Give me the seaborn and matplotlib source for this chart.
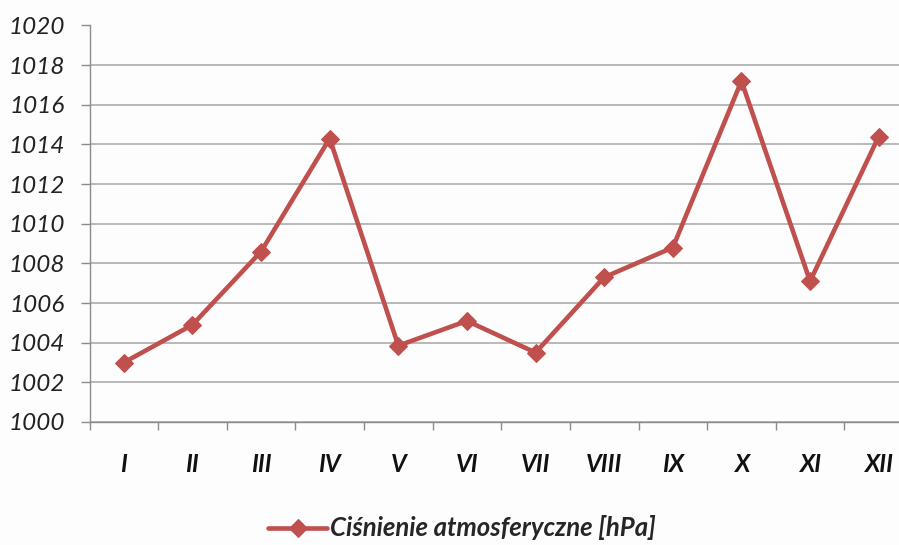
import numpy as np
import pandas as pd
import matplotlib
matplotlib.use("Agg")
import matplotlib.pyplot as plt
from matplotlib.ticker import FixedLocator
import seaborn as sns

months = ["I", "II", "III", "IV", "V", "VI", "VII", "VIII", "IX", "X", "XI", "XII"]
pressure = [1003.0, 1004.9, 1008.6, 1014.3, 1003.85, 1005.1, 1003.5, 1007.3, 1008.8, 1017.2, 1007.1, 1014.4]
series_name = "Ciśnienie atmosferyczne [hPa]"
y_ticks = list(range(1000, 1021, 2))

sns.set_theme(style="white")
plt.rcParams["font.family"] = ["Lato", "DejaVu Sans"]

df = pd.DataFrame({"month": months, "value": pressure})

fig = plt.figure(figsize=(8.99, 5.45), dpi=100)
fig.patch.set_facecolor("#fdfdfd")
ax = fig.add_axes([89.5 / 899, 123 / 545, (913 - 89.5) / 899, (519.5 - 123) / 545])
ax.set_facecolor("#fdfdfd")

red = "#C0504D"
sns.lineplot(data=df, x="month", y="value", ax=ax, color=red, linewidth=3.3,
             marker="D", markersize=9.5, markeredgecolor=red, label=series_name,
             sort=False)

ax.set_xlim(-0.5, len(months) - 0.5)
ax.set_ylim(1000, 1020)
ax.set_yticks(y_ticks)
ax.set_yticklabels([str(v) for v in y_ticks], fontsize=17.5, fontstyle="italic", color="#222222")
ax.yaxis.grid(True, color="#a6a6a6", linewidth=1.1)
ax.xaxis.grid(False)

# category labels at centers, tick marks at boundaries
ax.set_xticks(range(len(months)))
ax.set_xticklabels(months, fontsize=17.5, fontstyle="italic", fontweight="bold", color="#111111")
ax.tick_params(axis="x", which="major", length=0, pad=22)
ax.xaxis.set_minor_locator(FixedLocator(np.arange(-0.5, len(months), 1.0)))
ax.tick_params(axis="x", which="minor", length=6, width=1, color="#8c8c8c", direction="out", bottom=True)
ax.tick_params(axis="y", which="major", length=6.5, width=1, color="#8c8c8c", direction="out", left=True, pad=11)

for s in ["top", "right"]:
    ax.spines[s].set_visible(False)
for s in ["left", "bottom"]:
    ax.spines[s].set_color("#8c8c8c")
    ax.spines[s].set_linewidth(1)

ax.set_xlabel("")
ax.set_ylabel("")

leg = ax.get_legend()
if leg is not None:
    leg.remove()
handles, labels = ax.get_legend_handles_labels()
fig.legend(handles, labels, loc="center", bbox_to_anchor=(462 / 899, 17 / 545),
           frameon=False, prop={"size": 18.5, "style": "italic", "weight": "bold"},
           handlelength=2.3, handletextpad=0.1)

fig.savefig("out.png", dpi=100, facecolor=fig.get_facecolor())
